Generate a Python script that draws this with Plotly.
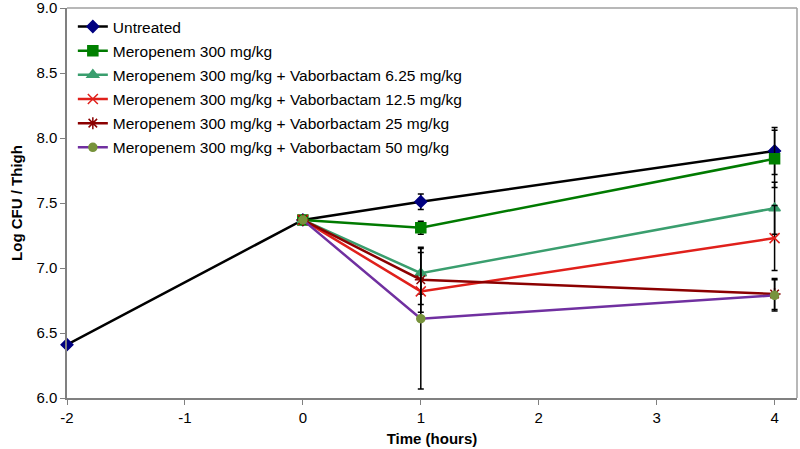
import plotly.graph_objects as go

series_names = [
    "Untreated",
    "Meropenem 300 mg/kg",
    "Meropenem 300 mg/kg + Vaborbactam 6.25 mg/kg",
    "Meropenem 300 mg/kg + Vaborbactam 12.5 mg/kg",
    "Meropenem 300 mg/kg + Vaborbactam 25 mg/kg",
    "Meropenem 300 mg/kg + Vaborbactam 50 mg/kg",
]
x_untreated = [-2, 0, 1, 4]
x_treated = [0, 1, 4]

y_untreated = [6.41, 7.37, 7.51, 7.90]
y_mero = [7.37, 7.31, 7.84]
y_v625 = [7.37, 6.96, 7.46]
y_v125 = [7.37, 6.82, 7.23]
y_v25 = [7.37, 6.91, 6.80]
y_v50 = [7.37, 6.61, 6.79]

err_untreated = [0, 0, 0.06, 0.18]
err_mero = [0, 0.05, 0.22]
err_v625 = [0, 0.16, 0.20]
err_v125 = [0, 0.10, 0.25]
err_v25 = [0, 0.25, 0.12]
err_v50 = [0, 0.54, 0.12]

x_tickvals = [-2, -1, 0, 1, 2, 3, 4]
x_ticktext = ["-2", "-1", "0", "1", "2", "3", "4"]
y_tickvals = [6.0, 6.5, 7.0, 7.5, 8.0, 8.5, 9.0]
y_ticktext = ["6.0", "6.5", "7.0", "7.5", "8.0", "8.5", "9.0"]

line_colors = ["#000000", "#007A00", "#3A9E6E", "#E0201B", "#8B0000", "#7030A0"]
marker_colors = ["#000080", "#008000", "#3A9E6E", "#E0201B", "#8B0000", "#77933C"]
symbols = ["diamond", "square", "triangle-up", "x-thin-open", "asterisk-open", "circle"]
sizes = [9, 10, 10, 10, 10, 8]

xs = [x_untreated] + [x_treated] * 5
ys = [y_untreated, y_mero, y_v625, y_v125, y_v25, y_v50]
errs = [err_untreated, err_mero, err_v625, err_v125, err_v25, err_v50]

fig = go.Figure()
for i in range(6):
    fig.add_trace(go.Scatter(
        x=xs[i], y=ys[i], name=series_names[i], mode="lines+markers",
        line=dict(color=line_colors[i], width=2.5),
        marker=dict(symbol=symbols[i], size=sizes[i], color=marker_colors[i],
                    line=dict(color=marker_colors[i], width=1.5)),
        error_y=dict(type="data", array=errs[i], color="black", thickness=1.5, width=3),
        legendgroup=f"g{i}", cliponaxis=False,
    ))

fig.update_layout(
    width=800, height=449,
    margin=dict(l=67, r=3, t=8, b=51),
    paper_bgcolor="white", plot_bgcolor="white",
    font=dict(family="Liberation Sans, Arial, sans-serif", size=15, color="black"),
    showlegend=True,
    legend=dict(x=0.008, y=0.995, xanchor="left", yanchor="top",
                bgcolor="rgba(0,0,0,0)", font=dict(size=15.5), tracegroupgap=1,
                itemwidth=30),
    xaxis=dict(range=[-2, 4.19], tickvals=x_tickvals, ticktext=x_ticktext,
               automargin=False, ticklabeloverflow="allow",
               showgrid=False, zeroline=False, showline=True, linecolor="#808080",
               linewidth=1.5, ticks="outside", ticklen=5, tickcolor="#808080",
               tickfont=dict(size=15),
               title=dict(text="<b>Time (hours)</b>", font=dict(size=15), standoff=9)),
    yaxis=dict(range=[6.0, 9.0], tickvals=y_tickvals, ticktext=y_ticktext,
               automargin=False, ticklabeloverflow="allow",
               showgrid=False, zeroline=False, showline=True,
               linecolor="#808080", linewidth=1.5, ticks="outside", ticklen=5,
               tickcolor="#808080", tickfont=dict(size=15),
               title=dict(text="<b>Log CFU / Thigh</b>", font=dict(size=15), standoff=10)),
    shapes=[
        dict(type="line", xref="paper", yref="paper", x0=0, x1=1, y0=1, y1=1,
             line=dict(color="#A0A0A0", width=1.5)),
        dict(type="line", xref="paper", yref="paper", x0=1, x1=1, y0=0, y1=1,
             line=dict(color="#A0A0A0", width=1.5)),
    ],
)

fig.write_html("out.html", config={"displayModeBar": False},
               post_script="document.body.style.margin='0';")
